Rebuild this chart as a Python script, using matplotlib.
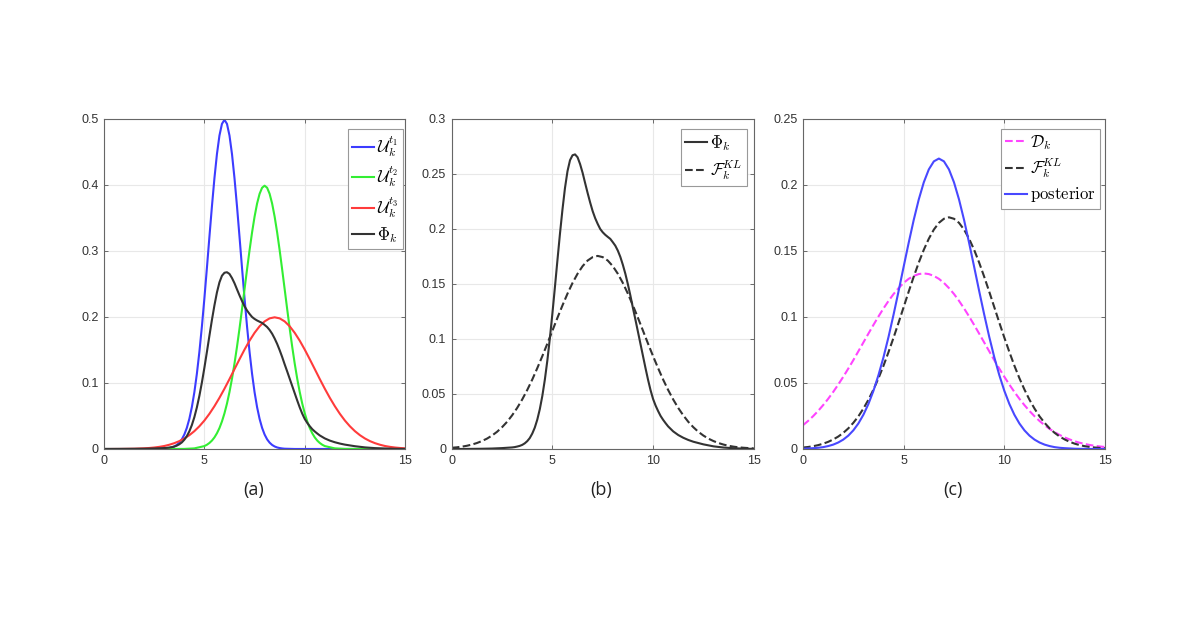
import numpy as np
import matplotlib
matplotlib.use("Agg")
import matplotlib.pyplot as plt
from matplotlib.ticker import FuncFormatter

plt.rcParams["mathtext.fontset"] = "cm"
plt.rcParams["font.family"] = ["Liberation Sans", "DejaVu Sans"]

# ---- data ----
# sample positions
X_GRID = np.arange(0, 15.001, 0.25)           # 61 points, 0 .. 15
X_U1 = np.concatenate(([0, 2, 2.5], np.arange(3, 9.001, 0.125), [9.5, 10, 15]))
X_U2 = np.concatenate(([0, 3, 4, 4.5], np.arange(5, 11.001, 0.125), [11.5, 12, 15]))
X_PHI = np.concatenate(([0, 0.5, 1, 1.5, 2, 2.5], np.arange(3, 10.751, 0.125),
                        [11, 11.25, 11.5, 11.75, 12, 12.5, 13, 13.5, 14, 14.5, 15]))

# panel (a)
U1 = [0, 0, 0,
      0.0004, 0.0008, 0.0014, 0.0023, 0.0038, 0.0061, 0.0096, 0.0146,
      0.0219, 0.0320, 0.0456, 0.0634, 0.0860, 0.1139, 0.1471, 0.1855,
      0.2283, 0.2742, 0.3214, 0.3675, 0.4102, 0.4468, 0.4749, 0.4926,
      0.4987,
      0.4926, 0.4749, 0.4468, 0.4102, 0.3675, 0.3214, 0.2742, 0.2283,
      0.1855, 0.1471, 0.1139, 0.0860, 0.0634, 0.0456, 0.0320, 0.0219,
      0.0146, 0.0096, 0.0061, 0.0038, 0.0023, 0.0014, 0.0008, 0.0004,
      0, 0, 0]
U2 = [0, 0, 0.0001, 0.0009,
      0.0044, 0.0064, 0.0091, 0.0127, 0.0175, 0.0238, 0.0317, 0.0417,
      0.0540, 0.0688, 0.0863, 0.1065, 0.1295, 0.1550, 0.1826, 0.2119,
      0.2420, 0.2720, 0.3011, 0.3281, 0.3520, 0.3718, 0.3866, 0.3958,
      0.3989,
      0.3958, 0.3866, 0.3718, 0.3520, 0.3281, 0.3011, 0.2720, 0.2420,
      0.2119, 0.1826, 0.1550, 0.1295, 0.1065, 0.0863, 0.0688, 0.0540,
      0.0417, 0.0317, 0.0238, 0.0175, 0.0127, 0.0091, 0.0064, 0.0044,
      0.0009, 0.0001, 0]
U3 = [0.0000, 0.0000, 0.0001, 0.0001, 0.0002, 0.0003, 0.0004, 0.0007,
      0.0010, 0.0015, 0.0022, 0.0032, 0.0045, 0.0064, 0.0088, 0.0119,
      0.0159, 0.0209, 0.0270, 0.0344, 0.0431, 0.0533, 0.0648, 0.0775,
      0.0913, 0.1059, 0.1210, 0.1360, 0.1506, 0.1641, 0.1760, 0.1859,
      0.1933, 0.1979, 0.1995, 0.1979, 0.1933, 0.1859, 0.1760, 0.1641,
      0.1506, 0.1360, 0.1210, 0.1059, 0.0913, 0.0775, 0.0648, 0.0533,
      0.0431, 0.0344, 0.0270, 0.0209, 0.0159, 0.0119, 0.0088, 0.0064,
      0.0045, 0.0032, 0.0022, 0.0015, 0.0010]
PHI = [0, 0, 0.0001, 0.0002, 0.0004, 0.0008,
       # 3.0 .. 10.75 every 0.125
       0.0014, 0.0017, 0.0022, 0.0028, 0.0037, 0.0051, 0.0071, 0.0099,
       0.0140, 0.0194, 0.0267, 0.0362, 0.0482, 0.0630, 0.0805, 0.1007,
       0.1231, 0.1470, 0.1715, 0.1955, 0.2176, 0.2372, 0.2525, 0.2625,
       0.2670, 0.2678, 0.2652, 0.2590, 0.2511, 0.2418, 0.2327, 0.2241,
       0.2162, 0.2098, 0.2046, 0.2000, 0.1970, 0.1947, 0.1928, 0.1910,
       0.1880, 0.1848, 0.1803, 0.1746, 0.1674, 0.1592, 0.1497, 0.1394,
       0.1282, 0.1175, 0.1065, 0.0955, 0.0845, 0.0735, 0.0630, 0.0535,
       0.0455, 0.0395, 0.0345, 0.0300, 0.0265, 0.0234, 0.0205,
       # tail
       0.0160, 0.0127, 0.0102, 0.0082, 0.0066, 0.0042, 0.0024, 0.0013,
       0.0007, 0.0003, 0.0001]

# panels (b) and (c)
F_KL = [0.0011, 0.0015, 0.0021, 0.0029, 0.0040, 0.0054, 0.0072, 0.0094,
        0.0122, 0.0156, 0.0198, 0.0247, 0.0306, 0.0373, 0.0450, 0.0536,
        0.0631, 0.0735, 0.0844, 0.0958, 0.1075, 0.1192, 0.1305, 0.1412,
        0.1509, 0.1593, 0.1662, 0.1713, 0.1744, 0.1755, 0.1744, 0.1713,
        0.1662, 0.1593, 0.1509, 0.1412, 0.1305, 0.1192, 0.1075, 0.0958,
        0.0844, 0.0735, 0.0631, 0.0536, 0.0450, 0.0373, 0.0306, 0.0247,
        0.0198, 0.0156, 0.0122, 0.0094, 0.0072, 0.0054, 0.0040, 0.0029,
        0.0021, 0.0015, 0.0011, 0.0008, 0.0005]
D_K = [0.0180, 0.0212, 0.0248, 0.0288, 0.0332, 0.0380, 0.0432, 0.0488,
       0.0547, 0.0609, 0.0673, 0.0740, 0.0807, 0.0874, 0.0940, 0.1004,
       0.1065, 0.1122, 0.1174, 0.1219, 0.1258, 0.1289, 0.1311, 0.1325,
       0.1330, 0.1325, 0.1311, 0.1289, 0.1258, 0.1219, 0.1174, 0.1122,
       0.1065, 0.1004, 0.0940, 0.0874, 0.0807, 0.0740, 0.0673, 0.0609,
       0.0547, 0.0488, 0.0432, 0.0380, 0.0332, 0.0288, 0.0248, 0.0212,
       0.0180, 0.0152, 0.0127, 0.0106, 0.0087, 0.0072, 0.0058, 0.0047,
       0.0038, 0.0030, 0.0024, 0.0019, 0.0015]
POSTERIOR = [0.0002, 0.0004, 0.0006, 0.0009, 0.0014, 0.0022, 0.0033, 0.0049,
             0.0071, 0.0101, 0.0141, 0.0193, 0.0259, 0.0341, 0.0441, 0.0560,
             0.0696, 0.0850, 0.1019, 0.1197, 0.1381, 0.1562, 0.1735, 0.1890,
             0.2020, 0.2118, 0.2179, 0.2200, 0.2179, 0.2118, 0.2020, 0.1890,
             0.1735, 0.1562, 0.1381, 0.1197, 0.1019, 0.0850, 0.0696, 0.0560,
             0.0441, 0.0341, 0.0259, 0.0193, 0.0141, 0.0101, 0.0071, 0.0049,
             0.0033, 0.0022, 0.0014, 0.0009, 0.0006, 0.0004, 0.0002, 0.0001,
             0.0001, 0, 0, 0, 0]

X_TICKS = [0, 5, 10, 15]
Y_TICKS_A = [0, 0.1, 0.2, 0.3, 0.4, 0.5]
Y_TICKS_B = [0, 0.05, 0.1, 0.15, 0.2, 0.25, 0.3]
Y_TICKS_C = [0, 0.05, 0.1, 0.15, 0.2, 0.25]
PANEL_LABELS = ["(a)", "(b)", "(c)"]

# ---- figure ----
fig = plt.figure(figsize=(11.96, 6.18), dpi=100)
lefts = [0.0870, 0.3777, 0.6714]
widths = [0.2517, 0.2525, 0.2525]
axes = [fig.add_axes([l, 0.2735, w, 0.534]) for l, w in zip(lefts, widths)]

fmt = FuncFormatter(lambda v, p: "%g" % round(v, 3))


def style(ax, yticks):
    ax.set_xlim(0, 15)
    ax.set_ylim(yticks[0], yticks[-1])
    ax.set_xticks(X_TICKS)
    ax.set_yticks(yticks)
    ax.yaxis.set_major_formatter(fmt)
    ax.grid(True, color="#e8e8e8", linewidth=0.8)
    ax.set_axisbelow(True)
    ax.tick_params(direction="in", top=True, right=True, length=3, width=0.6,
                   color="#555555", labelsize=9, labelcolor="#333333", pad=4)
    for s in ax.spines.values():
        s.set_color("#666666")
        s.set_linewidth(0.8)


def legend(ax, x_anchor, **kw):
    leg = ax.legend(loc="upper right", bbox_to_anchor=(x_anchor, 0.970),
                    borderaxespad=0, fancybox=False, framealpha=1,
                    edgecolor="#999999", fontsize=12, handlelength=1.3,
                    handletextpad=0.2, borderpad=0.25, **kw)
    leg.get_frame().set_linewidth(0.8)
    return leg


lw = 1.5

# (a)
ax = axes[0]
ax.plot(X_U1, U1, color="#3c3cff", lw=lw, label=r"$\mathcal{U}_k^{t_1}$")
ax.plot(X_U2, U2, color="#33ee33", lw=lw, label=r"$\mathcal{U}_k^{t_2}$")
ax.plot(X_GRID, U3, color="#ff3b3b", lw=lw, label=r"$\mathcal{U}_k^{t_3}$")
ax.plot(X_PHI, PHI, color="#333333", lw=lw, label=r"$\Phi_k$")
style(ax, Y_TICKS_A)
legend(ax, 0.993, labelspacing=0.3)

# (b)
ax = axes[1]
ax.plot(X_PHI, PHI, color="#333333", lw=lw, label=r"$\Phi_k$")
ax.plot(X_GRID, F_KL, color="#333333", lw=lw, ls="--", label=r"$\mathcal{F}_k^{KL}$")
style(ax, Y_TICKS_B)
legend(ax, 0.977, labelspacing=0.35)

# (c)
ax = axes[2]
ax.plot(X_GRID, D_K, color="#ff44ff", lw=lw, ls="--", label=r"$\mathcal{D}_k$")
ax.plot(X_GRID, F_KL, color="#333333", lw=lw, ls="--", label=r"$\mathcal{F}_k^{KL}$")
ax.plot(X_GRID, POSTERIOR, color="#4848ff", lw=lw, label=r"$\mathrm{posterior}$")
style(ax, Y_TICKS_C)
legend(ax, 0.983, labelspacing=0.3)

for ax, lab in zip(axes, PANEL_LABELS):
    pos = ax.get_position()
    fig.text(pos.x0 + pos.width / 2 - 0.001, 1 - 490 / 618, lab, ha="center", va="center",
             fontsize=13, family=["Open Sans", "DejaVu Sans"], color="#222222")

fig.savefig("out.png", dpi=100, facecolor="white")
